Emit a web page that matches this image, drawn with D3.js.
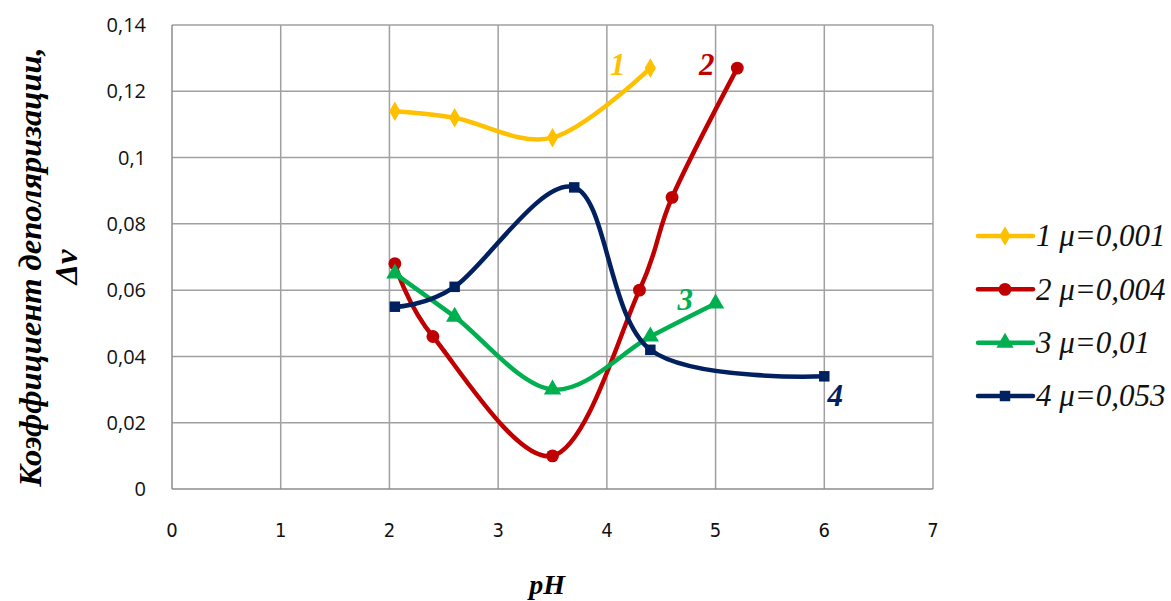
<!DOCTYPE html>
<html>
<head>
<meta charset="utf-8">
<script src="https://cdn.jsdelivr.net/npm/d3@7"></script>
<style>
  html, body { margin: 0; padding: 0; background: #fff; }
  svg { display: block; }
</style>
</head>
<body>
<svg id="chart" width="1171" height="601"></svg>
<script>
// data
const xTicks = [0, 1, 2, 3, 4, 5, 6, 7];
const yTicks = [0, 0.02, 0.04, 0.06, 0.08, 0.1, 0.12, 0.14];

const s1 = [[2.05, 0.114], [2.6, 0.112], [3.5, 0.106], [4.4, 0.127]];
const s2 = [[2.05, 0.068], [2.4, 0.046], [3.5, 0.010], [4.3, 0.060], [4.6, 0.088], [5.2, 0.127]];
const s3 = [[2.05, 0.065], [2.6, 0.052], [3.5, 0.030], [4.4, 0.046], [5.0, 0.056]];
const s4 = [[2.05, 0.055], [2.6, 0.061], [3.7, 0.091], [4.4, 0.042], [6.0, 0.034]];

const seriesNames = ['1 μ=0,001', '2 μ=0,004', '3 μ=0,01', '4 μ=0,053'];
const colors = ['#FFC000', '#C00000', '#00B050', '#002060'];
const symbols = [d3.symbolDiamond, d3.symbolCircle, d3.symbolTriangle, d3.symbolSquare];
const symSizes = [110, 130, 130, 110];

// curve number labels, in data units
const curveLabels = [['1', 4.1, 0.125], ['2', 4.92, 0.125], ['3', 4.72, 0.054], ['4', 6.1, 0.025]];

const svg = d3.select('#chart');
const x = d3.scaleLinear().domain([0, 7]).range([172, 933]);
const y = d3.scaleLinear().domain([0, 0.14]).range([489, 25]);

const fmt = d => String(+d.toFixed(2)).replace('.', ',');

// grid
svg.append('g')
  .selectAll('line')
  .data(yTicks.slice(1))
  .join('line')
  .attr('x1', x(0)).attr('x2', x(7))
  .attr('y1', d => y(d)).attr('y2', d => y(d))
  .attr('stroke', '#a0a0a0').attr('stroke-width', 1.5);
svg.append('g')
  .selectAll('line')
  .data(xTicks.slice(1))
  .join('line')
  .attr('x1', d => x(d)).attr('x2', d => x(d))
  .attr('y1', y(0)).attr('y2', y(0.14))
  .attr('stroke', '#a0a0a0').attr('stroke-width', 1.5);

// axes lines
svg.append('line').attr('x1', x(0)).attr('x2', x(7)).attr('y1', y(0)).attr('y2', y(0))
  .attr('stroke', '#8c8c8c').attr('stroke-width', 1.5);
svg.append('line').attr('x1', x(0)).attr('x2', x(0)).attr('y1', y(0)).attr('y2', y(0.14))
  .attr('stroke', '#8c8c8c').attr('stroke-width', 1.5);

// tick labels
svg.append('g')
  .selectAll('text')
  .data(yTicks)
  .join('text')
  .attr('x', 146).attr('y', d => y(d))
  .attr('dy', '0.36em')
  .attr('text-anchor', 'end')
  .attr('font-family', 'Open Sans, sans-serif').attr('font-size', 20)
  .attr('fill', '#111')
  .text(fmt);
svg.append('g')
  .selectAll('text')
  .data(xTicks)
  .join('text')
  .attr('x', d => x(d)).attr('y', 537)
  .attr('text-anchor', 'middle')
  .attr('font-family', 'DejaVu Sans Condensed, DejaVu Sans, sans-serif').attr('font-size', 20)
  .attr('fill', '#111')
  .text(d => d);

// axis titles
svg.append('text')
  .attr('x', x(3.45)).attr('y', 594)
  .attr('text-anchor', 'middle')
  .attr('font-family', 'Liberation Serif, serif').attr('font-weight', 'bold').attr('font-style', 'italic')
  .attr('font-size', 28)
  .text('pH');
const yt = svg.append('text')
  .attr('transform', 'translate(41,267) rotate(-90)')
  .attr('text-anchor', 'middle')
  .attr('font-family', 'Liberation Serif, serif').attr('font-weight', 'bold').attr('font-style', 'italic')
  .attr('font-size', 32.5);
yt.append('tspan').attr('x', 0).attr('y', 0).text('Коэффициент деполяризации,');
yt.append('tspan').attr('x', 0).attr('y', 36).text('Δν');

// series
const allSeries = [s1, s2, s3, s4];
const line = d3.line()
  .x(d => x(d[0])).y(d => y(d[1]))
  .curve(d3.curveCardinal.tension(0));

allSeries.forEach((s, i) => {
  svg.append('path')
    .attr('d', line(s))
    .attr('fill', 'none')
    .attr('stroke', colors[i])
    .attr('stroke-width', 4.5)
    .attr('stroke-linejoin', 'round')
    .attr('stroke-linecap', 'round');
  svg.append('g')
    .selectAll('path')
    .data(s)
    .join('path')
    .attr('transform', d => `translate(${x(d[0])},${y(d[1])})`)
    .attr('d', d3.symbol().type(symbols[i]).size(symSizes[i]))
    .attr('fill', colors[i]);
});

// curve labels
svg.append('g')
  .selectAll('text')
  .data(curveLabels)
  .join('text')
  .attr('x', d => x(d[1])).attr('y', d => y(d[2]))
  .attr('text-anchor', 'middle')
  .attr('font-family', 'Liberation Serif, serif').attr('font-weight', 'bold').attr('font-style', 'italic')
  .attr('font-size', 31)
  .attr('fill', (d, i) => colors[i])
  .text(d => d[0]);

// legend
const legend = svg.append('g');
const legY = d3.scalePoint().domain(seriesNames).range([236, 396]);
seriesNames.forEach((name, i) => {
  const g = legend.append('g').attr('transform', `translate(0,${legY(name)})`);
  g.append('line').attr('x1', 978).attr('x2', 1033).attr('y1', 0).attr('y2', 0)
    .attr('stroke', colors[i]).attr('stroke-width', 4.5).attr('stroke-linecap', 'round');
  g.append('path').attr('transform', 'translate(1005,0)')
    .attr('d', d3.symbol().type(symbols[i]).size(symSizes[i])).attr('fill', colors[i]);
  g.append('text').attr('x', 1036).attr('y', 0).attr('dy', '0.33em')
    .attr('font-family', 'Liberation Serif, serif').attr('font-style', 'italic')
    .attr('font-size', 31).attr('fill', '#111')
    .text(name);
});
</script>
</body>
</html>
